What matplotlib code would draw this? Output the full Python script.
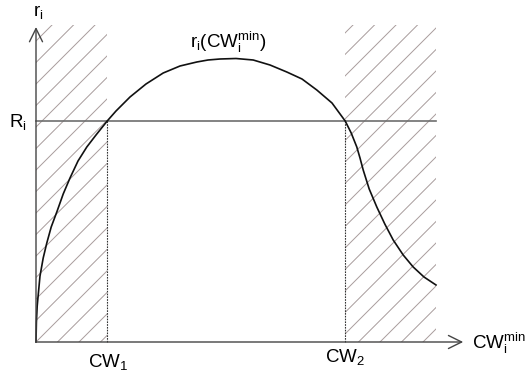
import numpy as np
import matplotlib
matplotlib.use("Agg")
import matplotlib.pyplot as plt
from matplotlib.patches import Rectangle

plt.rcParams["font.family"] = ["Liberation Sans", "DejaVu Sans"]
plt.rcParams["mathtext.fontset"] = "custom"
plt.rcParams["mathtext.rm"] = "Liberation Sans"
plt.rcParams["mathtext.it"] = "Liberation Sans"
plt.rcParams["mathtext.bf"] = "Liberation Sans:bold"

# r_i as a function of CW_i^min
cw_values = [0.0, 0.01, 0.03, 0.06, 0.10, 0.18, 0.27, 0.38, 0.52, 0.68, 0.85,
             1.05, 1.27, 1.50, 1.78, 2.00, 2.35, 2.75, 3.18, 3.60, 4.02, 4.30,
             4.60, 5.00, 5.43, 5.85, 6.27, 6.65, 7.02, 7.40, 7.73, 7.88, 8.02,
             8.10, 8.18, 8.33, 8.52, 8.72, 8.93, 9.18, 9.43, 9.70, 10.0]
r_values = [0.0, 0.20, 0.36, 0.49, 0.66, 0.84, 0.99, 1.15, 1.30, 1.48, 1.64,
            1.81, 1.95, 2.07, 2.21, 2.31, 2.45, 2.58, 2.69, 2.76, 2.80, 2.82,
            2.83, 2.835, 2.82, 2.77, 2.70, 2.63, 2.52, 2.39, 2.21, 2.09, 1.95,
            1.84, 1.72, 1.53, 1.35, 1.18, 1.02, 0.87, 0.75, 0.65, 0.57]

R_threshold = 2.21
cw_1 = 1.78
cw_2 = 7.73
cw_end = 10.0
hatch_top = 3.17
x_axis_end = 10.68
y_axis_end = 3.15

# pixel scale of each data unit (x: 40 px, y: 100 px)
px_per_x = 40.0
px_per_y = 100.0

fig = plt.figure(figsize=(5.26, 3.75), dpi=100)
ax = fig.add_axes([0, 0, 1, 1])
ax.set_xlim(-0.9, 12.25)
ax.set_ylim(-0.33, 3.42)
ax.axis("off")

# diagonal hatching of the excluded ranges
hatch_color = "#a89c9c"
spacing = 21.5 / px_per_x
slope = px_per_x / px_per_y
for x0_lo, x0_hi in [(0.0, cw_1), (cw_2, cw_end)]:
    clip = Rectangle((x0_lo, 0), x0_hi - x0_lo, hatch_top, transform=ax.transData,
                     facecolor="none", edgecolor="none")
    ax.add_patch(clip)
    starts = np.arange(-20, 40) * spacing
    for s in starts:
        xs = np.array([x0_lo - 10, x0_hi + 10])
        ys = slope * (xs - s)
        ln, = ax.plot(xs, ys, color=hatch_color, lw=0.7, zorder=1)
        ln.set_clip_path(clip)

# threshold line R_i
ax.plot([0, cw_end], [R_threshold, R_threshold], color="#6e6e6e", lw=1.2, zorder=2)

# dotted verticals at CW_1 and CW_2
for c in (cw_1, cw_2):
    ax.plot([c, c], [0, R_threshold], color="#333333", lw=0.8,
            linestyle=(0, (1.5, 1.0)), zorder=2)

# the curve
ax.plot(cw_values, r_values, color="#111111", lw=1.2, zorder=3,
        solid_joinstyle="round")

# axes with open arrowheads
arrow_kw = dict(arrowstyle="->,head_length=0.95,head_width=0.47",
                color="#444444", lw=1.0, shrinkA=0, shrinkB=0)
ax.annotate("", xy=(x_axis_end, 0), xytext=(0, 0), arrowprops=arrow_kw, zorder=4)
ax.annotate("", xy=(0, y_axis_end), xytext=(0, 0), arrowprops=arrow_kw, zorder=4)

fs = 13.5
ax.text(-0.075, 3.26, r"$\mathrm{r}_\mathrm{i}$", fontsize=fs, ha="left", va="baseline")
ax.text(-0.675, 2.15, r"$\mathrm{R}_\mathrm{i}$", fontsize=fs, ha="left", va="baseline")
ax.text(3.85, 2.94, r"$\mathrm{r}_\mathrm{i}\mathrm{(CW}_\mathrm{i}^\mathrm{min}\mathrm{)}$",
        fontsize=fs, ha="left", va="baseline")
ax.text(1.30, -0.25, r"$\mathrm{CW}_\mathrm{1}$", fontsize=fs, ha="left", va="baseline")
ax.text(7.225, -0.20, r"$\mathrm{CW}_\mathrm{2}$", fontsize=fs, ha="left", va="baseline")
ax.text(10.9, -0.07, r"$\mathrm{CW}_\mathrm{i}^\mathrm{min}$", fontsize=fs,
        ha="left", va="baseline")

fig.savefig("out.png", dpi=100, facecolor="white")
